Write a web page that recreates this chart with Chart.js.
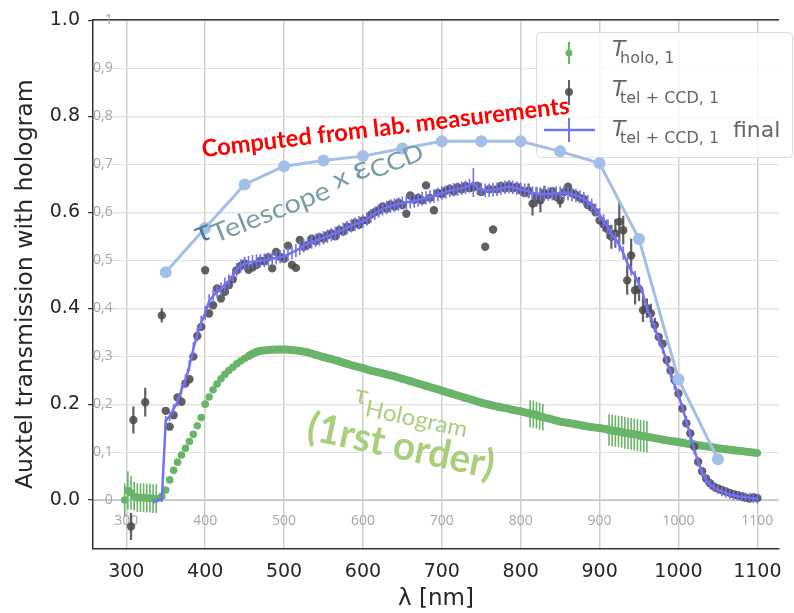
<!DOCTYPE html>
<html>
<head>
<meta charset="utf-8">
<script src="https://cdn.jsdelivr.net/npm/chart.js@4.4.1/dist/chart.umd.min.js"></script>
<style>
html,body{margin:0;padding:0;background:#fff;}
#wrap{width:794px;height:613px;position:relative;}
</style>
</head>
<body>
<div id="wrap"><canvas id="chart"></canvas></div>
<script>
// axes
const xTicks = [300, 400, 500, 600, 700, 800, 900, 1000, 1100];
const yTicks = [0.0, 0.2, 0.4, 0.6, 0.8, 1.0];
const excelYTicks = [0, 0.1, 0.2, 0.3, 0.4, 0.5, 0.6, 0.7, 0.8, 0.9, 1];
const excelYLabels = ['0', '0,1', '0,2', '0,3', '0,4', '0,5', '0,6', '0,7', '0,8', '0,9', '1'];
const xTitle = 'λ [nm]';
const yTitle = 'Auxtel transmission with hologram';

// T_holo,1 (green)
const holoWl = [298,302,306,310,314,318,322,326,330,334,338,
  345,350,355,360,365,370,375,380,385,390,395,400,405,410,415,420,425,430,435,440,445,450,455,460,465,470,
  480,490,500,510,520,530,540,550,560,570,580,590,600,610,620,630,640,650,660,670,680,690,700,710,720,730,740,750,760,770,780,790,800,
  808,812,816,820,824,828,836,844,852,860,870,880,890,900,908,912,916,920,924,928,932,936,940,944,948,952,956,960,
  970,980,990,1000,1010,1020,1030,1040,1050,1060,1070,1080,1090,1100];
const holoT = [0.0,0.02,0.015,0.008,0.005,0.005,0.005,0.004,0.004,0.003,0.003,
  0.008,0.021,0.042,0.062,0.079,0.094,0.108,0.122,0.137,0.155,0.172,0.2,0.215,0.23,0.242,0.253,0.262,0.27,0.277,0.284,0.29,0.295,0.3,0.305,0.309,0.311,
  0.313,0.314,0.314,0.313,0.311,0.308,0.303,0.298,0.294,0.289,0.284,0.279,0.275,0.27,0.266,0.262,0.258,0.253,0.248,0.243,0.238,0.233,0.228,0.223,0.218,0.213,0.208,0.203,0.199,0.195,0.192,0.188,0.185,
  0.182,0.18,0.179,0.177,0.175,0.173,0.17,0.166,0.163,0.161,0.158,0.155,0.152,0.15,0.148,0.146,0.145,0.144,0.143,0.142,0.14,0.139,0.138,0.137,0.136,0.134,0.133,0.132,
  0.129,0.126,0.123,0.121,0.118,0.116,0.113,0.111,0.108,0.106,0.104,0.102,0.1,0.098];
const holoErr = [0.035,0.04,0.035,0.03,0.03,0.03,0.03,0.03,0.03,0.03,0.03,
  0,0,0,0,0,0,0,0,0,0,0,0,0,0,0,0,0,0,0,0,0,0,0,0,0,0,
  0,0,0,0,0,0,0,0,0,0,0,0,0,0,0,0,0,0,0,0,0,0,0,0,0,0,0,0,0,0,0,0,0,
  0,0.028,0.028,0.028,0.028,0.028,0,0,0,0,0,0,0,0,0,0.033,0.033,0.033,0.033,0.033,0.033,0.033,0.033,0.033,0.033,0.033,0.033,0.033,
  0,0,0,0,0,0,0,0,0,0,0,0,0,0];

// T_tel+CCD,1 (grey points) and final (blue line), on a 5 nm grid
const wl5 = [335,340,345,350,355,360,365,370,375,380,
  385,390,395,400,405,410,415,420,425,430,
  435,440,445,450,455,460,465,470,475,480,
  485,490,495,500,505,510,515,520,525,530,
  535,540,545,550,555,560,565,570,575,580,
  585,590,595,600,605,610,615,620,625,630,
  635,640,645,650,655,660,665,670,675,680,
  685,690,695,700,705,710,715,720,725,730,
  735,740,745,750,755,760,765,770,775,780,
  785,790,795,800,805,810,815,820,825,830,
  835,840,845,850,855,860,865,870,875,880,
  885,890,895,900,905,910,915,920,925,930,
  935,940,945,950,955,960,965,970,975,980,
  985,990,995,1000,1005,1010,1015,1020,1025,1030,
  1035,1040,1045,1050,1055,1060,1065,1070,1075,1080,
  1085,1090,1095,1100];
const greyEarlyWl = [306, 309, 324];
const greyEarlyT = [-0.055, 0.167, 0.204];
const greyEarlyErr = [0.028, 0.028, 0.03];
const greyT = [null,null,0.385,0.186,0.153,0.177,0.214,0.205,0.243,0.252,
  0.299,0.342,0.361,0.479,0.389,0.406,0.441,0.42,0.434,0.448,
  0.46,0.479,0.488,0.493,0.48,0.485,0.49,0.499,0.498,0.506,
  0.483,0.517,0.507,0.503,0.53,0.49,0.484,0.542,0.528,0.532,
  0.545,0.54,0.548,0.545,0.552,0.556,0.55,0.563,0.56,0.57,
  0.568,0.578,0.574,0.583,0.583,0.595,0.6,0.604,0.612,0.607,
  0.616,0.612,0.62,0.615,0.597,0.635,0.626,0.63,0.625,0.656,
  0.63,0.604,0.64,0.638,0.645,0.649,0.643,0.652,0.648,0.655,
  0.65,0.652,0.655,0.642,0.528,0.648,0.564,0.648,0.655,0.65,
  0.656,0.65,0.653,0.646,0.64,0.645,0.618,0.632,0.625,0.64,
  0.636,0.644,0.632,0.625,0.642,0.653,0.64,0.636,0.63,0.627,
  0.615,0.61,0.6,0.583,0.575,0.565,0.549,0.556,0.58,0.5625,
  0.458,0.51,0.4375,0.44,0.396,0.4,0.389,0.365,0.34,0.326,
  0.292,0.27,0.25,0.222,0.191,0.16,0.139,0.111,0.08,0.06,
  0.045,0.035,0.028,0.024,0.021,0.018,0.015,0.012,0.01,0.008,
  0.005,0.003,0.006,0.004];
const greyErr = [0,0,0.015,0,0,0,0,0,0,0,
  0,0,0,0,0,0,0,0,0,0,
  0,0,0,0,0,0,0,0,0,0,
  0,0,0,0,0,0,0,0,0,0,
  0,0,0,0,0,0,0,0,0,0,
  0,0,0,0,0,0,0,0,0,0,
  0,0,0,0,0,0,0,0,0,0,
  0,0,0,0,0,0,0,0,0,0,
  0,0,0,0,0,0,0,0,0,0,
  0,0,0,0,0,0.015,0.025,0.02,0.025,0.015,
  0,0,0,0.015,0,0,0,0,0,0,
  0,0,0,0,0.015,0.02,0.025,0.03,0.045,0.03,
  0.03,0.035,0.03,0.025,0.025,0.02,0.02,0.015,0,0,
  0,0,0,0,0,0,0,0,0,0,
  0,0,0,0,0,0,0,0,0,0,
  0,0,0,0];
const finalT = [-0.003,0.0,0.0,0.165,0.175,0.19,0.205,0.23,0.25,0.28,
  0.315,0.345,0.37,0.39,0.415,0.425,0.435,0.44,0.45,0.457,
  0.468,0.48,0.488,0.493,0.495,0.497,0.498,0.499,0.5,0.502,
  0.503,0.505,0.507,0.508,0.512,0.516,0.52,0.525,0.53,0.534,
  0.538,0.541,0.544,0.547,0.55,0.553,0.556,0.56,0.564,0.568,
  0.572,0.575,0.578,0.581,0.586,0.592,0.598,0.603,0.607,0.61,
  0.613,0.615,0.617,0.619,0.621,0.622,0.624,0.626,0.628,0.63,
  0.632,0.634,0.637,0.64,0.642,0.645,0.647,0.648,0.65,0.652,
  0.656,0.662,0.65,0.648,0.646,0.646,0.647,0.648,0.65,0.652,
  0.653,0.652,0.65,0.648,0.646,0.643,0.64,0.639,0.638,0.638,
  0.638,0.639,0.64,0.64,0.64,0.639,0.637,0.635,0.632,0.628,
  0.622,0.614,0.605,0.595,0.582,0.57,0.555,0.545,0.532,0.515,
  0.495,0.478,0.468,0.45,0.43,0.4,0.38,0.36,0.335,0.315,
  0.29,0.265,0.24,0.22,0.192,0.165,0.135,0.105,0.08,0.058,
  0.042,0.033,0.027,0.022,0.018,0.015,0.012,0.01,0.008,0.007,
  0.006,0.005,0.004,0.003];
const finalErr = [0.004,0.004,0.004,0.01,0.01,0.01,0.01,0.01,0.012,0.012,
  0.014,0.014,0.014,0.014,0.014,0.014,0.014,0.014,0.014,0.014,
  0.014,0.014,0.014,0.014,0.014,0.014,0.014,0.014,0.014,0.014,
  0.014,0.014,0.014,0.014,0.014,0.014,0.014,0.014,0.014,0.014,
  0.014,0.014,0.014,0.014,0.014,0.014,0.014,0.014,0.014,0.014,
  0.014,0.014,0.014,0.014,0.014,0.014,0.014,0.014,0.014,0.014,
  0.014,0.014,0.014,0.014,0.014,0.014,0.014,0.014,0.014,0.014,
  0.014,0.014,0.014,0.014,0.014,0.014,0.014,0.014,0.014,0.014,
  0.014,0.03,0.014,0.014,0.014,0.014,0.014,0.014,0.014,0.014,
  0.014,0.014,0.014,0.014,0.014,0.014,0.014,0.014,0.014,0.014,
  0.014,0.014,0.014,0.014,0.014,0.014,0.014,0.014,0.014,0.014,
  0.014,0.014,0.014,0.014,0.014,0.014,0.014,0.014,0.014,0.014,
  0.01,0.01,0.01,0.01,0.01,0.01,0.01,0.01,0.01,0.01,
  0.01,0.01,0.01,0.01,0.01,0.01,0.01,0.01,0.01,0.01,
  0.01,0.01,0.01,0.01,0.01,0.01,0.01,0.01,0.01,0.01,
  0.01,0.01,0.01,0.01];

// computed from lab. measurements (light blue)
const labWl = [350,400,450,500,550,600,650,700,750,800,850,900,950,1000,1050];
const labT = [0.475,0.567,0.658,0.696,0.708,0.717,0.733,0.748,0.748,0.748,0.727,0.702,0.544,0.252,0.085];

const GREEN = '#69b469';
const GREY = 'rgba(75,75,75,0.88)';
const BLUE = '#7370f2';
const LAB = '#a3bfe8';

const holoPts = holoWl.map((x, i) => ({x, y: holoT[i]}));
const greyPts = [];
const greyErrs = [];
greyEarlyWl.forEach((x, i) => { greyPts.push({x, y: greyEarlyT[i]}); greyErrs.push(greyEarlyErr[i]); });
wl5.forEach((x, i) => {
  if (greyT[i] !== null) { greyPts.push({x, y: greyT[i]}); greyErrs.push(greyErr[i]); }
});
const finalPts = wl5.map((x, i) => ({x, y: finalT[i]}));
const labPts = labWl.map((x, i) => ({x, y: labT[i]}));

const X_MIN = 257.8, X_MAX = 1127.3, Y_MIN = -0.102, Y_MAX = 1.002;

// vertical error bars, drawn right after their dataset
const errorBars = {
  id: 'errorBars',
  afterDatasetDraw(chart, args) {
    const ds = chart.data.datasets[args.index];
    if (!ds.errors) return;
    const ctx = chart.ctx, ys = chart.scales.y, a = chart.chartArea;
    ctx.save();
    ctx.beginPath();
    ctx.rect(a.left, a.top, a.right - a.left, a.bottom - a.top);
    ctx.clip();
    ctx.strokeStyle = ds.errColor;
    ctx.lineWidth = ds.errWidth;
    args.meta.data.forEach((pt, i) => {
      const e = ds.errors[i];
      if (!e) return;
      const v = ds.data[i].y;
      ctx.beginPath();
      ctx.moveTo(pt.x, ys.getPixelForValue(v - e));
      ctx.lineTo(pt.x, ys.getPixelForValue(v + e));
      ctx.stroke();
    });
    ctx.restore();
  }
};

function drawRun(ctx, x, y, deg, parts, len) {
  ctx.save();
  ctx.translate(x, y);
  ctx.rotate(deg * Math.PI / 180);
  let total = 0;
  parts.forEach(p => { ctx.font = p.font; total += ctx.measureText(p.text).width; });
  ctx.scale(len ? len / total : 1, 1);
  let cx = 0;
  parts.forEach(p => {
    ctx.font = p.font;
    ctx.fillStyle = p.color;
    ctx.fillText(p.text, cx, p.dy || 0);
    cx += ctx.measureText(p.text).width;
  });
  ctx.restore();
}

const notes = {
  id: 'notes',
  afterDatasetsDraw(chart) {
    const ctx = chart.ctx, xs = chart.scales.x, ys = chart.scales.y;
    const px = v => xs.getPixelForValue(v), py = v => ys.getPixelForValue(v);
    ctx.textBaseline = 'alphabetic';
    ctx.textAlign = 'left';
    drawRun(ctx, px(396.8), py(0.7146), -6.8,
      [{text: 'Computed from lab. measurements', font: 'bold 24px Lato', color: '#ff0000'}], 370);
    const teal = '#7a9ca6';
    drawRun(ctx, px(392), py(0.535), -21.5, [
      {text: 'τ', font: '30px Lato', color: '#4a7a94'},
      {text: 'Telescope', font: '26px Lato', color: teal, dy: 6},
      {text: ' x ', font: '26px Lato', color: teal},
      {text: 'ε', font: '32px Lato', color: teal},
      {text: 'CCD', font: '24px Lato', color: teal, dy: 4}
    ], 242);
    const lg = '#a9cf7c';
    drawRun(ctx, px(588), py(0.204), 12, [
      {text: 'τ', font: '27px Lato', color: lg},
      {text: 'Hologram', font: '23px Lato', color: lg, dy: 11}
    ], 117);
    drawRun(ctx, px(527), py(0.127), 12,
      [{text: '(1rst order)', font: 'bold 40px Lato', color: lg}], 190);
  }
};

// legend sits under the data layers, like the pasted overlay in the original
const legendBox = {
  id: 'legendBox',
  beforeDatasetsDraw(chart) {
    const ctx = chart.ctx;
    ctx.save();
    ctx.beginPath();
    ctx.roundRect(536.5, 32.5, 256, 125, 4);
    ctx.fillStyle = 'rgba(255,255,255,0.8)';
    ctx.fill();
    ctx.strokeStyle = '#dcdcdc';
    ctx.lineWidth = 1;
    ctx.stroke();
    // markers
    ctx.lineWidth = 2;
    ctx.strokeStyle = GREEN; ctx.fillStyle = GREEN;
    ctx.beginPath(); ctx.moveTo(569, 42); ctx.lineTo(569, 64); ctx.stroke();
    ctx.beginPath(); ctx.arc(569, 53, 3.5, 0, Math.PI * 2); ctx.fill();
    ctx.strokeStyle = GREY; ctx.fillStyle = GREY;
    ctx.beginPath(); ctx.moveTo(569, 80); ctx.lineTo(569, 105); ctx.stroke();
    ctx.beginPath(); ctx.arc(569, 92, 4, 0, Math.PI * 2); ctx.fill();
    ctx.strokeStyle = BLUE;
    ctx.lineWidth = 2.5;
    ctx.beginPath(); ctx.moveTo(544, 130); ctx.lineTo(595, 130); ctx.stroke();
    ctx.lineWidth = 2;
    ctx.beginPath(); ctx.moveTo(569, 118); ctx.lineTo(569, 142); ctx.stroke();
    // labels
    ctx.fillStyle = '#666';
    ctx.textBaseline = 'alphabetic';
    ctx.textAlign = 'left';
    const rows = [
      {base: 56, sub: 'holo, 1', extra: ''},
      {base: 96, sub: 'tel + CCD, 1', extra: ''},
      {base: 136, sub: 'tel + CCD, 1', extra: 'final'}
    ];
    rows.forEach(r => {
      ctx.font = 'italic 22px "DejaVu Sans"';
      ctx.fillText('T', 612, r.base);
      ctx.font = '16px "DejaVu Sans"';
      ctx.fillText(r.sub, 620, r.base + 7);
      if (r.extra) {
        ctx.font = '22px "DejaVu Sans"';
        ctx.fillText(r.extra, 733, r.base + 1);
      }
    });
    ctx.restore();
  }
};

const fixedTicks = vals => axis => { axis.ticks = vals.map(v => ({value: v})); };

function makeChart() {
  new Chart(document.getElementById('chart'), {
    type: 'scatter',
    data: {
      datasets: [
        {
          label: 'lab', data: labPts, showLine: true, order: 0,
          borderColor: LAB, borderWidth: 3, backgroundColor: LAB,
          pointRadius: 6, pointBorderWidth: 0
        },
        {
          label: 'final', data: finalPts, showLine: true, order: 1,
          borderColor: BLUE, borderWidth: 2.5, pointRadius: 0,
          errors: finalErr, errColor: BLUE, errWidth: 1.6
        },
        {
          label: 'tel', data: greyPts, order: 2,
          backgroundColor: GREY, pointRadius: 4.2, pointBorderWidth: 0,
          errors: greyErrs, errColor: GREY, errWidth: 2.2
        },
        {
          label: 'holo', data: holoPts, showLine: true, order: 3,
          borderColor: GREEN, borderWidth: 8, backgroundColor: GREEN,
          pointRadius: 3.8, pointBorderWidth: 0,
          segment: { borderColor: c => c.p0.parsed.x < 455 ? 'rgba(0,0,0,0)' : GREEN },
          errors: holoErr, errColor: GREEN, errWidth: 1.6
        }
      ]
    },
    options: {
      responsive: true,
      maintainAspectRatio: false,
      animation: false,
      layout: { padding: { top: 19, left: 0, right: 0, bottom: 0 } },
      plugins: { legend: { display: false }, tooltip: { enabled: false } },
      scales: {
        x: {
          type: 'linear', position: 'bottom', weight: 1, min: X_MIN, max: X_MAX,
          afterBuildTicks: fixedTicks(xTicks),
          afterFit: a => { a.height = 64; },
          ticks: { color: '#262626', padding: 12, font: { family: 'DejaVu Sans', size: 19 }, callback: v => String(v) },
          grid: { color: '#cfcfcf', lineWidth: 1.5, drawTicks: false },
          border: { color: '#333', width: 1.5 },
          title: { display: true, text: xTitle, color: '#262626', font: { family: 'DejaVu Sans', size: 23 }, padding: { top: 0, bottom: 0 } }
        },
        x2: {
          type: 'linear', position: 'bottom', weight: 0, min: X_MIN, max: X_MAX,
          afterBuildTicks: fixedTicks(xTicks),
          afterFit: a => { a.height = 0; },
          ticks: { mirror: true, padding: 20, color: '#a6a6a6', font: { family: 'Open Sans', size: 14 }, callback: v => String(v) },
          grid: { display: false, drawTicks: false },
          border: { display: false }
        },
        xTop: {
          type: 'linear', position: 'top', min: X_MIN, max: X_MAX,
          afterFit: a => { a.height = 0; },
          ticks: { display: false },
          grid: { display: false, drawTicks: false },
          border: { color: '#333', width: 1.5 }
        },
        y: {
          type: 'linear', position: 'left', weight: 1, min: Y_MIN, max: Y_MAX,
          afterBuildTicks: fixedTicks(yTicks),
          afterFit: a => { a.width = 93; },
          ticks: { color: '#262626', padding: 8, font: { family: 'DejaVu Sans', size: 19 }, callback: v => v.toFixed(1) },
          grid: { color: '#d4d4d4', lineWidth: 1.2, tickLength: 5, tickColor: '#333', tickWidth: 1.2 },
          border: { color: '#333', width: 1.5 },
          title: { display: true, text: yTitle, color: '#262626', font: { family: 'DejaVu Sans', size: 23.5 }, padding: { top: 12, bottom: 0 } }
        },
        y2: {
          type: 'linear', position: 'left', weight: 0, min: Y_MIN, max: Y_MAX,
          afterBuildTicks: fixedTicks(excelYTicks),
          afterFit: a => { a.width = 0; },
          ticks: { mirror: true, crossAlign: 'far', padding: 0, color: '#a6a6a6', font: { family: 'Open Sans', size: 14 }, callback: (v, i) => excelYLabels[i] },
          grid: { color: c => c.tick && c.tick.value === 0 ? '#c4c4c4' : '#e2e2e2', lineWidth: 1, drawTicks: false },
          border: { display: false }
        }
      }
    },
    plugins: [errorBars, notes, legendBox]
  });
}

const fontsToLoad = ['bold 24px Lato', '24px Lato', '14px "Open Sans"', '19px "DejaVu Sans"', 'italic 22px "DejaVu Sans"'];
Promise.all(fontsToLoad.map(f => document.fonts.load(f))).then(makeChart, makeChart);
</script>
</body>
</html>
